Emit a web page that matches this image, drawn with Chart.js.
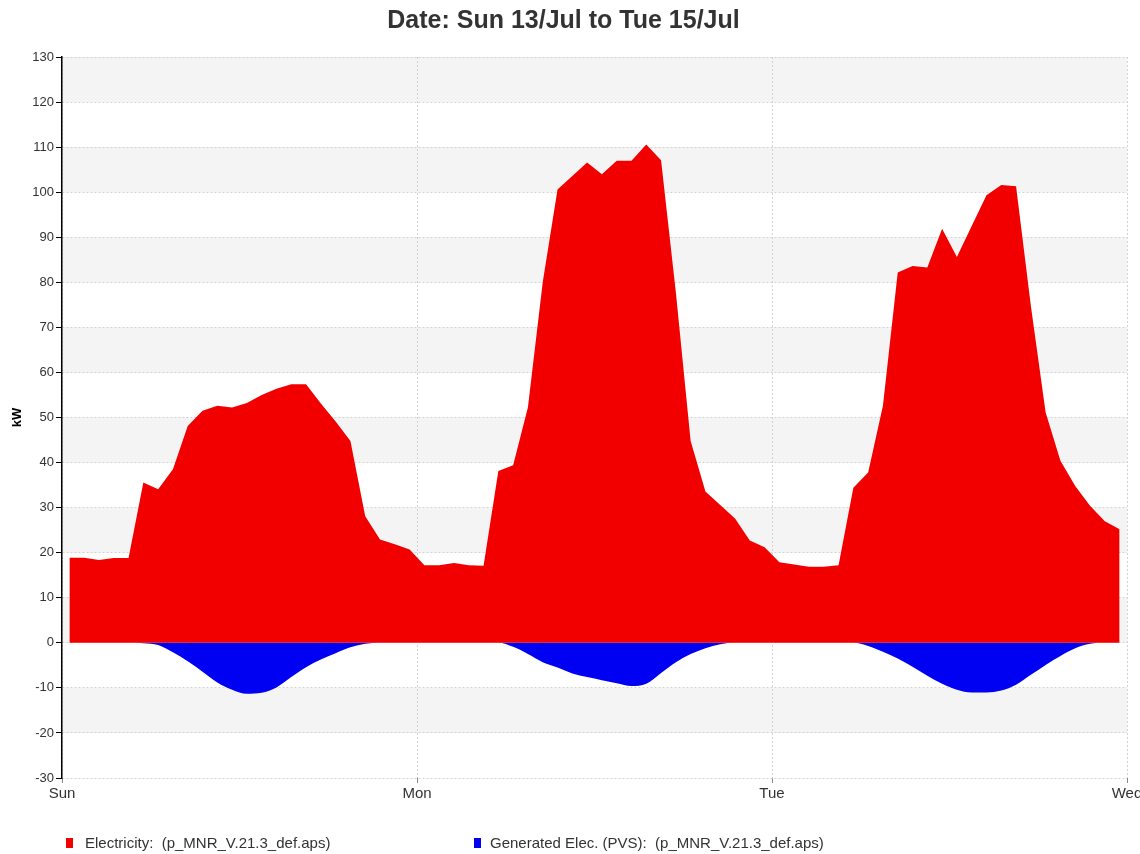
<!DOCTYPE html>
<html>
<head>
<meta charset="utf-8">
<script src="https://cdn.jsdelivr.net/npm/chart.js@4"></script>
<style>
html,body{margin:0;padding:0;background:#fff;}
#wrap{width:1140px;height:854px;position:relative;}
</style>
</head>
<body>
<div id="wrap"><canvas id="c"></canvas></div>
<script>
const titleText = 'Date: Sun 13/Jul to Tue 15/Jul';
const dayLabels = ['Sun', 'Mon', 'Tue', 'Wed'];
const yAxisTitle = 'kW';
const legendLabels = ['Electricity:  (p_MNR_V.21.3_def.aps)', 'Generated Elec. (PVS):  (p_MNR_V.21.3_def.aps)'];
// hourly samples (centre of each hour), 72 hours from Sun 00:00
const hours = Array.from({length: 72}, (_, i) => i + 0.5);

const electricity = [
  18.9, 18.9, 18.4, 18.8, 18.8, 35.6, 34.1, 38.5, 48.1, 51.5, 52.6, 52.2,
  53.2, 55.0, 56.4, 57.4, 57.4, 53.1, 49.1, 44.8, 28.1, 22.9, 21.9, 20.7,
  17.2, 17.2, 17.7, 17.2, 17.1, 38.1, 39.4, 52.3, 80.0, 100.6, 103.6, 106.6,
  104.0, 107.0, 107.0, 110.6, 107.1, 77.8, 44.8, 33.6, 30.6, 27.6, 22.7, 21.2,
  17.9, 17.4, 16.9, 16.9, 17.2, 34.4, 37.8, 52.6, 82.2, 83.6, 83.3, 91.9,
  85.6, 92.5, 99.3, 101.6, 101.3, 74.8, 51.1, 40.4, 34.8, 30.4, 27.0, 25.2
];

const generated = [
  0, 0, 0, 0, 0, -0.1, -0.5, -2.1, -4.1, -6.4, -8.8, -10.4,
  -11.3, -11.1, -9.9, -7.6, -5.4, -3.7, -2.3, -1.0, -0.2, 0, 0, 0,
  0, 0, 0, 0, 0, 0, -0.9, -2.5, -4.3, -5.5, -6.8, -7.6,
  -8.3, -9.0, -9.6, -9.1, -6.7, -4.3, -2.5, -1.2, -0.3, 0, 0, 0,
  0, 0, 0, 0, 0, 0, -0.7, -2.0, -3.5, -5.3, -7.3, -9.1,
  -10.4, -11.0, -11.0, -10.6, -9.3, -7.1, -4.9, -2.9, -1.2, -0.2, 0, 0
];

const seriesColors = ['#f20000', '#0000f2'];
const FONT = '"Liberation Sans", Arial, Helvetica, sans-serif';

const bandsPlugin = {
  id: 'bands',
  beforeDraw(chart) {
    const {ctx, chartArea: a, scales: {y}} = chart;
    ctx.save();
    ctx.fillStyle = '#f4f4f4';
    for (let v = 120; v >= -20; v -= 20) {
      const t = y.getPixelForValue(v + 10), b = y.getPixelForValue(v);
      ctx.fillRect(a.left, t, a.right - a.left, b - t);
    }
    ctx.restore();
  }
};

const legendPlugin = {
  id: 'customLegend',
  afterDraw(chart) {
    const ctx = chart.ctx;
    const items = [
      {box: 66, text: 85},
      {box: 474, text: 490}
    ];
    ctx.save();
    ctx.font = '15px ' + FONT;
    ctx.textBaseline = 'middle';
    ctx.textAlign = 'left';
    items.forEach((it, i) => {
      ctx.fillStyle = seriesColors[i];
      ctx.fillRect(it.box, 838, 7, 10);
      ctx.fillStyle = '#333';
      ctx.fillText(legendLabels[i], it.text, 844);
    });
    ctx.restore();
  }
};

new Chart(document.getElementById('c'), {
  type: 'line',
  data: {
    datasets: [
      {
        label: legendLabels[0],
        data: hours.map((h, i) => ({x: h, y: electricity[i]})),
        backgroundColor: seriesColors[0],
        borderColor: seriesColors[0],
        borderWidth: 0,
        pointRadius: 0,
        fill: 'origin',
        tension: 0
      },
      {
        label: legendLabels[1],
        data: hours.map((h, i) => ({x: h, y: generated[i]})),
        backgroundColor: seriesColors[1],
        borderColor: seriesColors[1],
        borderWidth: 0,
        pointRadius: 0,
        fill: 'origin',
        cubicInterpolationMode: 'monotone'
      }
    ]
  },
  options: {
    responsive: true,
    maintainAspectRatio: false,
    animation: false,
    layout: {padding: {left: 0, right: 13, top: 0, bottom: 44}},
    plugins: {
      legend: {display: false},
      tooltip: {enabled: false},
      title: {
        display: true,
        text: titleText,
        color: '#333',
        font: {family: FONT, size: 25, weight: 'bold'},
        padding: {top: 6, bottom: 21}
      }
    },
    scales: {
      x: {
        type: 'linear',
        min: 0,
        max: 72,
        ticks: {
          stepSize: 24,
          autoSkip: false,
          maxRotation: 0,
          padding: 2,
          color: '#333',
          font: {family: FONT, size: 15},
          callback: v => dayLabels[v / 24]
        },
        grid: {color: '#d2d2d2', tickColor: '#888', tickLength: 5, tickBorderDash: []},
        border: {display: false, dash: [2, 2]},
        afterFit(s) { s.height = 32; s.paddingLeft = 0; s.paddingRight = 0; }
      },
      y: {
        min: -30,
        max: 130,
        ticks: {
          stepSize: 10,
          padding: 2,
          color: '#333',
          font: {family: FONT, size: 13}
        },
        grid: {color: '#d2d2d2', tickColor: '#000', tickLength: 6, tickBorderDash: []},
        border: {display: true, color: '#000', width: 1.5, dash: [2, 2]},
        title: {
          display: true,
          text: yAxisTitle,
          color: '#000',
          font: {family: FONT, size: 13, weight: 'bold'},
          padding: {top: 10, bottom: 0}
        },
        afterFit(s) { s.width = 62; }
      }
    }
  },
  plugins: [bandsPlugin, legendPlugin]
});
</script>
</body>
</html>
